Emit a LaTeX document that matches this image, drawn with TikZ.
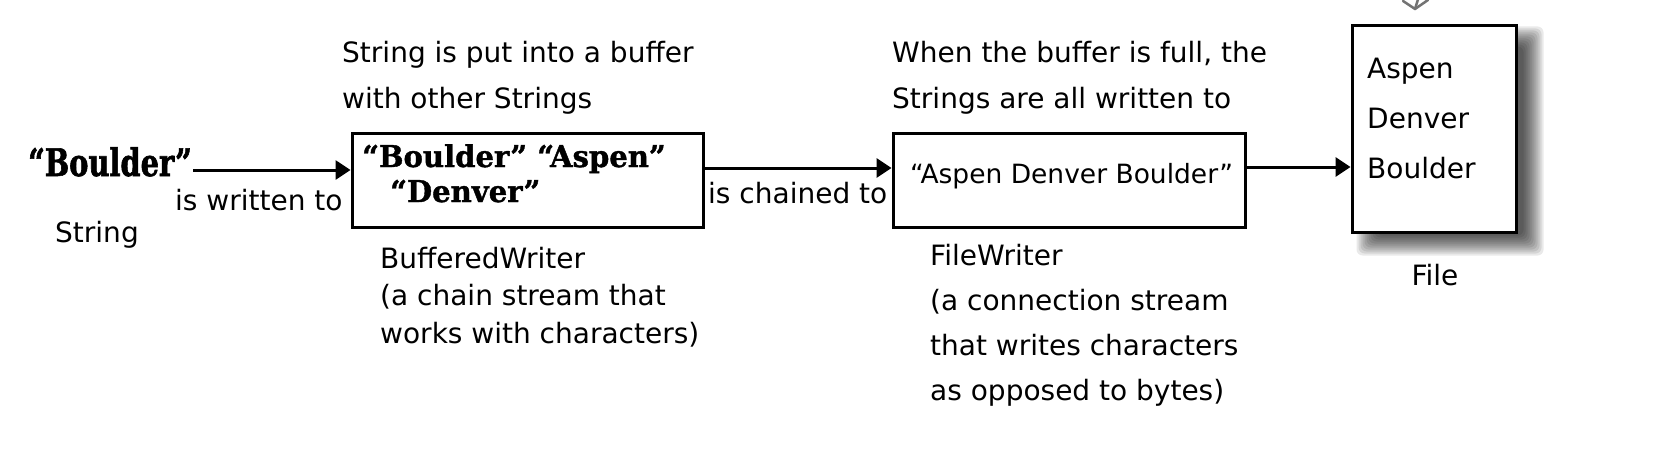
\documentclass[tikz,border=0pt]{standalone}
\usepackage{fontspec}
\setmainfont{DejaVu Sans}
\newfontfamily\slabA{DejaVu Serif}[FakeStretch=0.76,FakeBold=1.5]
\newfontfamily\slabB{DejaVu Serif}[FakeStretch=0.97,FakeBold=1.2]
\usetikzlibrary{arrows.meta}
\pgfdeclarelayer{bglayer}
\pgfdeclarelayer{shadowlayer}
\pgfsetlayers{bglayer,shadowlayer,main}
\newcommand{\tsans}{\fontsize{28pt}{34pt}\selectfont}
\tikzset{
  txt/.style={font=\tsans, inner sep=0pt, anchor=base west},
  bigslab/.style={font=\slabA\bfseries\fontsize{38pt}{44pt}\selectfont, inner sep=0pt, anchor=base west},
  boxslab/.style={font=\slabB\bfseries\fontsize{30pt}{36pt}\selectfont, inner sep=0pt, anchor=base west},
  streambox/.style={draw, line width=3pt, fill=white, inner sep=0pt},
  arr/.style={line width=3pt, -{Triangle[length=15pt,width=19pt]}},
  shadowlayerstep/.style={fill=black, opacity=0.085},
}
\begin{document}
\begin{tikzpicture}[x=1pt,y=-1pt]
\useasboundingbox (0,0) rectangle (1653,452);
\begin{pgfonlayer}{bglayer}
\fill[white] (0,0) rectangle (1653,452);
\end{pgfonlayer}
\clip (0,0) rectangle (1653,452);

% boxes
\node[streambox, minimum width=351pt, minimum height=94pt] (buf) at (527.5,180) {};
\node[streambox, minimum width=352pt, minimum height=94pt] (fw) at (1069,180) {};
\node[streambox, minimum width=164pt, minimum height=206pt] (file) at (1434,129) {};

% soft shadow of the file box
\begin{pgfonlayer}{shadowlayer}
\foreach \e in {10,8,...,-10} {
  \fill[shadowlayerstep, rounded corners=6pt]
    ([xshift=16pt-\e pt, yshift=-12pt+\e pt]file.north west)
    rectangle ([xshift=16pt+\e pt, yshift=-12pt-\e pt]file.south east);
}
\end{pgfonlayer}

% string
\node[bigslab] (boulder) at (28,176) {“Boulder”};
\node[txt] (written) at (175,210) {is written to};
\node[txt] (string) at (55,242) {String};

% buffered writer
\node[txt] (put1) at (342,63) {String is put into a buffer};
\node[txt] (put2) at (342,108) {with other Strings};
\node[boxslab] (bl1) at (362,167) {“Boulder” “Aspen”};
\node[boxslab] (bl2) at (390,202) {“Denver”};
\node[txt] (bw1) at (380,268) {BufferedWriter};
\node[txt] (bw2) at (380,305) {(a chain stream that};
\node[txt] (bw3) at (380,343) {works with characters)};

% file writer
\node[txt] (chained) at (708,203) {is chained to};
\node[txt] (full1) at (892,63) {When the buffer is full, the};
\node[txt] (full2) at (892,108) {Strings are all written to};
\node[txt, font=\fontsize{26.5pt}{32pt}\selectfont] (adb) at (910,183) {“Aspen Denver Boulder”};
\node[txt] (fw1) at (930,265) {FileWriter};
\node[txt] (fw2) at (930,310) {(a connection stream};
\node[txt] (fw3) at (930,355) {that writes characters};
\node[txt] (fw4) at (930,400) {as opposed to bytes)};

% file
\node[txt] (f1) at (1367,78) {Aspen};
\node[txt] (f2) at (1367,128) {Denver};
\node[txt] (f3) at (1367,178) {Boulder};
\node[font=\tsans, inner sep=0pt, anchor=base] (filelbl) at (1435,285) {File};

% connectors
\coordinate (a1) at (193,170);
\draw[arr] (a1) -- (a1 -| buf.west);
\draw[arr] (buf.east |- 0,168) -- (fw.west |- 0,168);
\draw[arr] (fw.east |- 0,167) -- (file.west |- 0,167);

% partial grey arrow tip coming from above
\coordinate (gt) at (1415,9);
\coordinate (gs) at (1424,-20);
\draw[line width=2.5pt, color=black!55, line cap=round, line join=round]
  (1403,1) -- (gt) -- (1428,0);
\draw[line width=2.5pt, color=black!55, line cap=round] (gs) -- (gt);
\end{tikzpicture}
\end{document}
